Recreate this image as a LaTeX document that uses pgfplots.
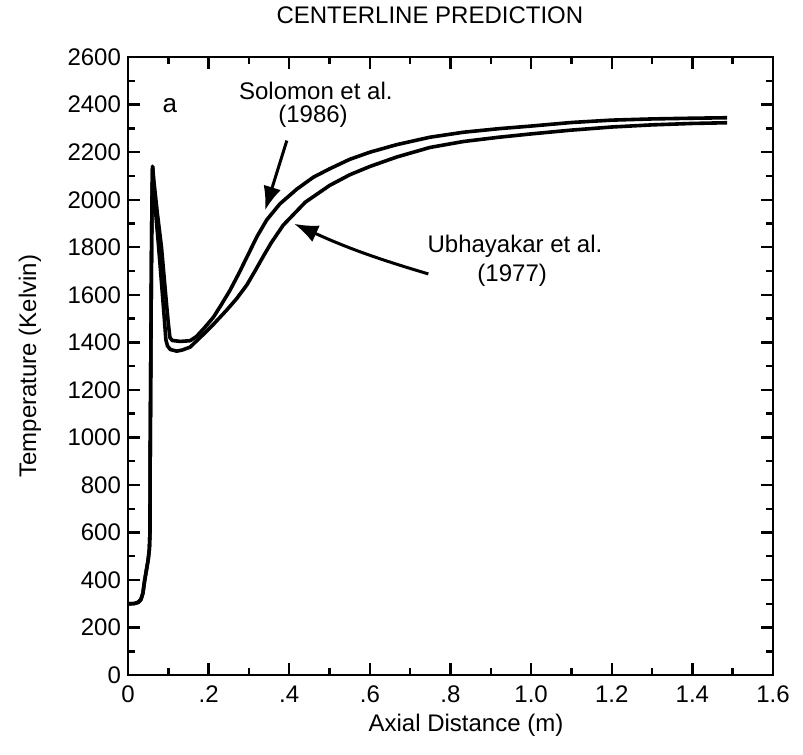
\documentclass[border=0pt]{standalone}
\usepackage{fontspec}
\setmainfont{Liberation Sans}
\usepackage{pgfplots}
\pgfplotsset{compat=1.18}
\usetikzlibrary{arrows.meta,calc}

% centerline temperature, two models
\pgfplotstableread{
x T
0 300
0.015 301
0.025 306
0.032 318
0.037 345
0.041 395
0.046 445
0.050 485
0.053 530
0.0545 600
0.055 900
0.0565 1300
0.058 1700
0.0595 2000
0.061 2140
0.064 2081
0.073 1940
0.083 1801
0.094 1590
0.100 1480
0.104 1420
0.110 1408
0.130 1404
0.154 1407
0.170 1425
0.190 1462
0.212 1506
0.232 1560
0.253 1619
0.275 1690
0.295 1759
0.320 1845
0.344 1915
0.377 1983
0.419 2045
0.460 2095
0.500 2130
0.550 2170
0.600 2200
0.667 2232
0.749 2263
0.832 2284
0.920 2299
1.000 2310
1.100 2325
1.200 2335
1.300 2340
1.400 2343
1.486 2345
}\solomon

\pgfplotstableread{
x T
0 300
0.015 301
0.025 306
0.032 318
0.037 345
0.041 395
0.046 445
0.050 485
0.053 530
0.0545 600
0.055 900
0.0565 1300
0.058 1700
0.0595 2000
0.061 2140
0.066 2000
0.071 1900
0.076 1801
0.086 1590
0.091 1480
0.094 1410
0.098 1385
0.105 1370
0.121 1363
0.135 1368
0.154 1380
0.180 1422
0.212 1476
0.245 1536
0.270 1585
0.295 1642
0.315 1700
0.335 1760
0.355 1818
0.385 1893
0.440 1990
0.500 2060
0.550 2105
0.600 2140
0.667 2180
0.749 2220
0.832 2245
0.920 2263
1.000 2277
1.100 2293
1.200 2306
1.300 2315
1.400 2321
1.486 2324
}\ubhayakar

\begin{document}
\begin{tikzpicture}[font=\fontsize{12}{14}\selectfont]
\begin{axis}[
  scale only axis, width=322.5pt, height=309pt,
  xmin=0, xmax=1.6, ymin=0, ymax=2600,
  xtick={0,0.2,0.4,0.6,0.8,1.0,1.2,1.4,1.6},
  xticklabels={0,.2,.4,.6,.8,1.0,1.2,1.4,1.6},
  ytick={0,200,400,600,800,1000,1200,1400,1600,1800,2000,2200,2400,2600},
  minor x tick num=1, minor y tick num=1,
  tick align=inside, major tick length=6pt, minor tick length=3.5pt,
  every tick/.style={black, line width=1.2pt},
  axis line style={line width=1.2pt},
  /pgf/number format/assume math mode=true,
  /pgf/number format/1000 sep={},
  xticklabel style={yshift=-2pt},
  title={CENTERLINE PREDICTION},
  title style={at={(axis description cs:0.468,1.0485)}, anchor=center},
  xlabel={Axial Distance (m)},
  xlabel style={at={(axis description cs:0.524,-0.081)}, anchor=center},
  ylabel={Temperature (Kelvin)},
  ylabel style={at={(axis description cs:-0.152,0.5)}, anchor=center},
  clip=false,
]
\addplot[black, line width=1.8pt, line join=round] table[x=x, y=T] {\solomon};
\addplot[black, line width=1.8pt, line join=round] table[x=x, y=T] {\ubhayakar};

\node[font=\fontsize{13}{15}\selectfont] at (axis cs:0.104,2395) {a};
\node at (axis cs:0.466,2458) {Solomon et al.};
\node at (axis cs:0.459,2352) {(1986)};
\node at (axis cs:0.960,1805) {Ubhayakar et al.};
\node at (axis cs:0.953,1683) {(1977)};

\draw[line width=1.5pt, -{Latex[length=12pt, width=9pt]}] (axis cs:0.394,2249) -- (axis cs:0.340,1955);
\draw[line width=1.5pt, -{Latex[length=12pt, width=9pt]}] (axis cs:0.745,1688) to[bend left=4] (axis cs:0.412,1899);
\end{axis}
\path ($(current axis.south west)+(-64pt,-39.5pt)$) rectangle ($(current axis.north east)+(15pt,25pt)$);
\end{tikzpicture}
\end{document}
